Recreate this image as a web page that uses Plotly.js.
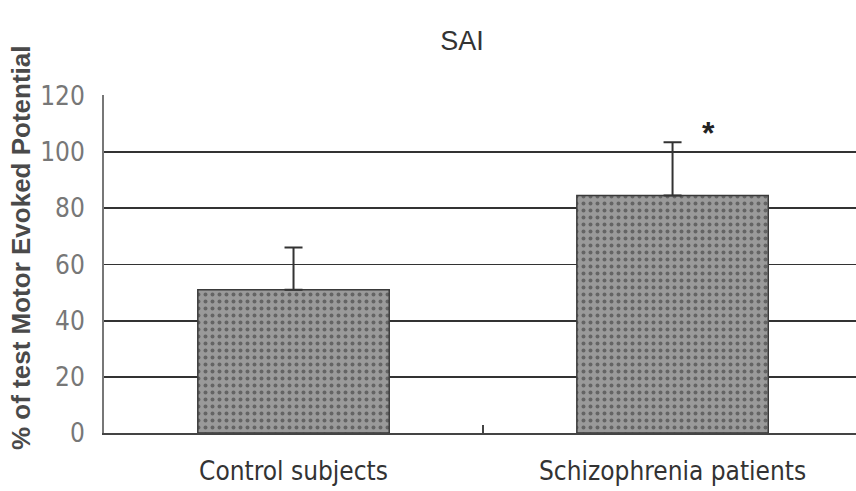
<!DOCTYPE html>
<html>
<head>
<meta charset="utf-8">
<script src="https://cdn.plot.ly/plotly-3.0.1.min.js"></script>
<style>
  html, body { margin: 0; padding: 0; background: #fff; }
  #chart { width: 856px; height: 491px; }
</style>
</head>
<body>
<div id="chart"></div>
<script>
// SAI: conditioned MEP amplitude as % of the test MEP, mean + SD
const groups = ['Control subjects', 'Schizophrenia patients'];
const meanPct = [51, 84.5];
const sdPct = [15, 19];
const sdLower = [0, 0];
const sigMarks = ['', '*'];
const yTicks = [0, 20, 40, 60, 80, 100, 120];

const narrow = 'Liberation Sans Narrow, DejaVu Sans Condensed, Arial Narrow, sans-serif';
const sans = 'Liberation Sans, Arial, sans-serif';

const bars = {
  type: 'bar',
  x: groups,
  y: meanPct,
  width: 0.505,
  marker: {
    color: '#929292',
    line: { color: '#3a3a3a', width: 1.5 },
    pattern: { shape: '.', size: 7, solidity: 0.25, fgcolor: '#646464', bgcolor: '#9a9a9a', fillmode: 'replace' }
  },
  error_y: {
    type: 'data',
    array: sdPct,
    arrayminus: sdLower,
    symmetric: false,
    color: '#333',
    thickness: 2,
    width: 9
  },
  hoverinfo: 'skip'
};

// significance marker placed just above the error bar, right of centre
const sigNotes = groups.map((g, i) => ({
  x: g,
  y: meanPct[i] + sdPct[i],
  xref: 'x',
  yref: 'y',
  text: sigMarks[i],
  showarrow: false,
  xshift: 36,
  yshift: 9,
  font: { family: sans, size: 32, color: '#222', weight: 'bold' }
})).filter(a => a.text);

// vertical y-axis caption, set a little above the plot's middle
const yCaption = {
  text: '% of test Motor Evoked Potential',
  xref: 'paper', yref: 'paper',
  x: (21 - 104) / 752, y: (433 - 248) / 338,
  xanchor: 'center', yanchor: 'middle',
  textangle: -90,
  showarrow: false,
  font: { family: sans, size: 26, color: '#4a4a4a', weight: 'bold' }
};

const layout = {
  width: 856,
  height: 491,
  margin: { l: 104, r: 0, t: 95, b: 58 },
  paper_bgcolor: '#fff',
  plot_bgcolor: '#fff',
  showlegend: false,
  title: {
    text: 'SAI',
    x: 462 / 856, xref: 'container',
    y: 1 - 41 / 491, yref: 'container',
    xanchor: 'center', yanchor: 'middle',
    font: { family: sans, size: 27, color: '#333' }
  },
  xaxis: {
    type: 'category',
    range: [-0.5, 1.484],
    showgrid: false,
    showline: true,
    linecolor: '#444',
    linewidth: 2,
    ticks: 'inside',
    tickson: 'boundaries',
    ticklen: 8,
    tickwidth: 2,
    tickcolor: '#444',
    ticklabelstandoff: 14,
    tickfont: { family: narrow, size: 26, color: '#333' },
    zeroline: false
  },
  yaxis: {
    range: [0, 120.3],
    tickvals: yTicks,
    ticktext: yTicks.map(String),
    showgrid: true,
    gridcolor: '#333',
    gridwidth: 1.8,
    showline: true,
    linecolor: '#777',
    linewidth: 2,
    ticks: '',
    zeroline: false,
    tickfont: { family: narrow, size: 26, color: '#777' },
    ticklabelstandoff: 12
  },
  annotations: sigNotes.concat([yCaption])
};

Plotly.newPlot('chart', [bars], layout, { displayModeBar: false, staticPlot: true });
</script>
</body>
</html>
